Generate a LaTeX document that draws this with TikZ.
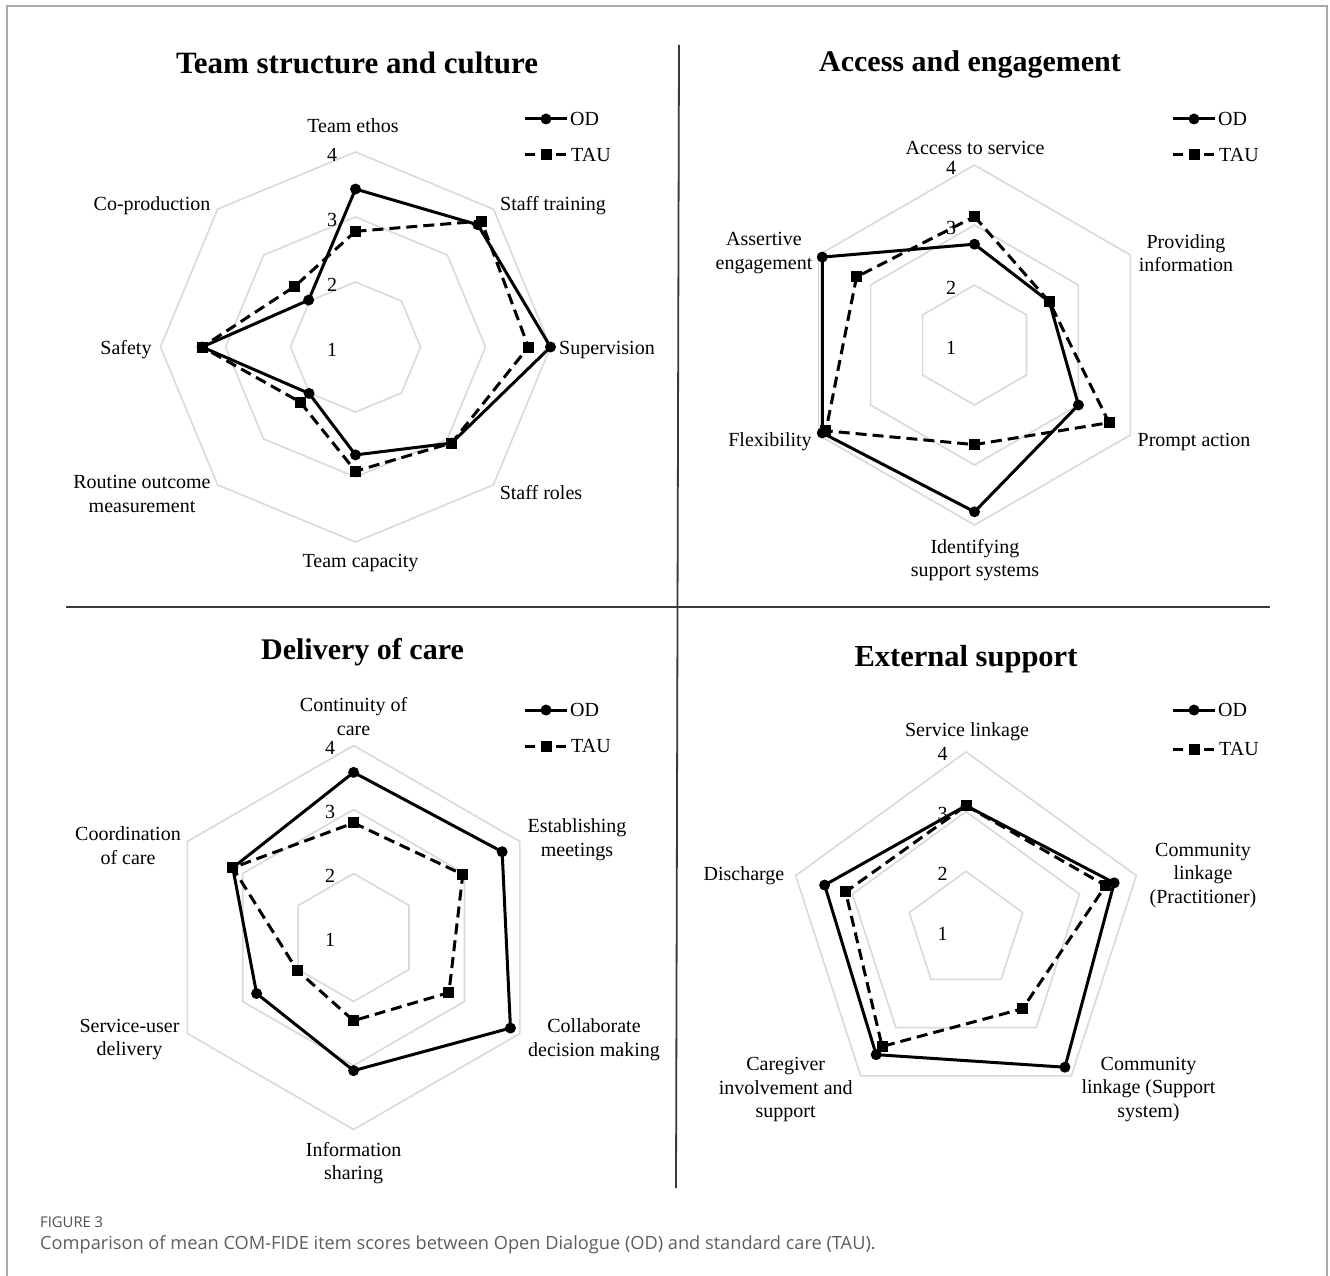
\documentclass[tikz,border=0pt]{standalone}
\usepackage{fontspec}
\setmainfont{Liberation Serif}
\newfontfamily\capfont{Open Sans}
\usetikzlibrary{calc}
\definecolor{gridgray}{HTML}{D9D9D9}
\definecolor{framegray}{HTML}{AAAAAA}
\definecolor{capgray}{HTML}{5E5E5E}
\definecolor{figgray}{HTML}{505050}
\definecolor{divgray}{HTML}{3A3A3A}
\tikzset{
  gridline/.style={draw=gridgray, line width=1.6pt, line join=miter},
  odline/.style={draw=black, line width=3pt, line join=round},
  tauline/.style={draw=black, line width=3pt, dash pattern=on 11pt off 6pt, line join=round},
  odmark/.style={circle, fill=black, inner sep=0pt, minimum size=11pt},
  taumark/.style={rectangle, fill=black, inner sep=0pt, minimum size=11pt},
  lab/.style={font=\fontsize{20}{23.5}\selectfont, align=center, inner sep=0pt},
  scalelab/.style={font=\fontsize{20}{23.5}\selectfont, inner sep=0pt},
  paneltitle/.style={font=\fontsize{30}{34}\selectfont\bfseries, inner sep=0pt},
  divider/.style={draw=divgray, line width=1.8pt},
}
% #1 prefix, #2 number of axes, #3 unit per score point, #4 OD values, #5 TAU values
\newcommand{\radarpanel}[5]{%
  \pgfmathtruncatemacro{\nm}{#2-1}%
  \foreach \r in {1,2,3}{
    \draw[gridline] (-90:{\r*#3}) \foreach \i in {1,...,\nm}{ -- ({-90+\i*360/#2}:{\r*#3}) } -- cycle;
  }
  \foreach \v in {1,2,3,4}{
    \node[scalelab] (#1s\v) at (-23.5,{-(\v-1)*#3+2.5}) {\v};
  }
  \foreach \v [count=\i from 0] in {#4}{ \coordinate (#1od\i) at ({-90+\i*360/#2}:{(\v-1)*#3}); }
  \foreach \v [count=\i from 0] in {#5}{ \coordinate (#1tau\i) at ({-90+\i*360/#2}:{(\v-1)*#3}); }
  \draw[tauline] (#1tau0) \foreach \i in {1,...,\nm}{ -- (#1tau\i) } -- cycle;
  \draw[odline] (#1od0) \foreach \i in {1,...,\nm}{ -- (#1od\i) } -- cycle;
  \foreach \i in {0,...,\nm}{
    \node[taumark] (#1taum\i) at (#1tau\i) {};
    \node[odmark] (#1odm\i) at (#1od\i) {};
  }
}
% #1 prefix, #2 left x, #3 OD y, #4 TAU y
\newcommand{\radarlegend}[4]{%
  \coordinate (#1la) at (#2,#3);
  \coordinate (#1lb) at (#2+42,#3);
  \draw[odline] (#1la) -- (#1lb);
  \node[odmark] (#1lm) at ($(#1la)!0.5!(#1lb)$) {};
  \node[lab, anchor=west] (#1lo) at (#2+45,#3) {OD};
  \coordinate (#1ta) at (#2,#4);
  \coordinate (#1tb) at (#2+10,#4);
  \coordinate (#1tc) at (#2+31,#4);
  \coordinate (#1td) at (#2+41,#4);
  \draw[odline] (#1ta) -- (#1tb);
  \draw[odline] (#1tc) -- (#1td);
  \node[taumark] (#1tm) at ($(#1la)!0.5!(#1lb)+(0,#4-#3)$) {};
  \node[lab, anchor=west] (#1lt) at (#2+46,#4) {TAU};
}
\begin{document}
\begin{tikzpicture}[x=1pt,y=-1pt]
\useasboundingbox (0,0) rectangle (1330,1276);
\clip (0,0) rectangle (1330,1276);
\fill[white] (0,0) rectangle (1330,1276);
\draw[framegray, line width=2pt] (6.5,6.5) rectangle (1327,1300);

% dividers
\coordinate (vtop) at (679,45);
\coordinate (vbot) at (676,1188);
\coordinate (hl) at (66,607);
\coordinate (hr) at (1270,607);
\draw[divider] (vtop) -- (vbot);
\draw[divider] (hl) -- (hr);

% ---------- Panel 1 ----------
\node[paneltitle, font=\fontsize{31}{35}\selectfont\bfseries] (t1) at (357,63) {Team structure and culture};
\begin{scope}[shift={(355.5,347)}]
\radarpanel{A}{8}{65}{3.43,3.66,4.0,3.09,2.66,2.01,3.36,2.02}{2.78,3.74,3.66,3.09,2.91,2.20,3.36,2.32}
\end{scope}
\radarlegend{A}{525}{119}{155}
\node[lab] (a0) at (353,125.5) {Team ethos};
\node[lab] (a1) at (553,206) {Staff training};
\node[lab] (a2) at (607,350) {Supervision};
\node[lab] (a3) at (541,493) {Staff roles};
\node[lab] (a4) at (360.5,563) {Team capacity};
\node[lab] (a5) at (142,494) {Routine outcome\\measurement};
\node[lab] (a6) at (126,350) {Safety};
\node[lab] (a7) at (152,206) {Co-production};

% ---------- Panel 2 ----------
\node[paneltitle] (t2) at (970,64) {Access and engagement};
\begin{scope}[shift={(974.5,345)}]
\radarpanel{B}{6}{60}{2.68,2.44,3.0,3.78,3.93,3.93}{3.14,2.44,3.59,2.66,3.86,3.27}
\end{scope}
\radarlegend{B}{1173}{119}{155}
\node[lab] (b0) at (975,147.5) {Access to service};
\node[lab] (b1) at (1186,253) {Providing\\information};
\node[lab] (b2) at (1194,442) {Prompt action};
\node[lab] (b3) at (975,560) {Identifying\\support systems};
\node[lab] (b4) at (770,442) {Flexibility};
\node[lab] (b5) at (764,253) {Assertive\\engagement};

% ---------- Panel 3 ----------
\node[paneltitle] (t3) at (362.5,652.5) {Delivery of care};
\begin{scope}[shift={(353.6,937.5)}]
\radarpanel{C}{6}{64}{3.58,3.68,3.83,3.08,2.75,3.18}{2.79,2.97,2.72,2.30,2.02,3.18}
\end{scope}
\radarlegend{C}{525}{710}{746}
\node[lab] (c0) at (353.6,716.5) {Continuity of\\care};
\node[lab] (c1) at (577,839.5) {Establishing\\meetings};
\node[lab] (c2) at (594,1039.5) {Collaborate\\decision making};
\node[lab] (c3) at (353.6,1163) {Information\\sharing};
\node[lab] (c4) at (129.5,1039.5) {Service-user\\delivery};
\node[lab] (c5) at (128,845.5) {Coordination\\of care};

% ---------- Panel 4 ----------
\node[paneltitle, font=\fontsize{30.5}{35}\selectfont\bfseries] (t4) at (966,659.5) {External support};
\begin{scope}[shift={(966,931)}]
\radarpanel{D}{5}{59.7}{3.10,3.61,3.82,3.56,3.49}{3.10,3.46,2.61,3.39,3.12}
\end{scope}
\radarlegend{D}{1173}{710}{749}
\node[lab] (d0) at (967,732) {Service linkage};
\node[lab] (d1) at (1203,875) {Community\\linkage\\(Practitioner)};
\node[lab] (d2) at (1148.5,1089.5) {Community\\linkage (Support\\system)};
\node[lab] (d3) at (785.7,1089.5) {Caregiver\\involvement and\\support};
\node[lab] (d4) at (744,876) {Discharge};

% ---------- Caption ----------
\node[anchor=west, inner sep=0pt, text=figgray, font=\capfont\fontsize{14.8}{16}\selectfont] (fig) at (40,1222) {FIGURE 3};
\node[anchor=west, inner sep=0pt, text=capgray, font=\capfont\fontsize{18.2}{21}\selectfont] (cap) at (40,1245) {Comparison of mean COM-FIDE item scores between Open Dialogue (OD) and standard care (TAU).};
\end{tikzpicture}
\end{document}
